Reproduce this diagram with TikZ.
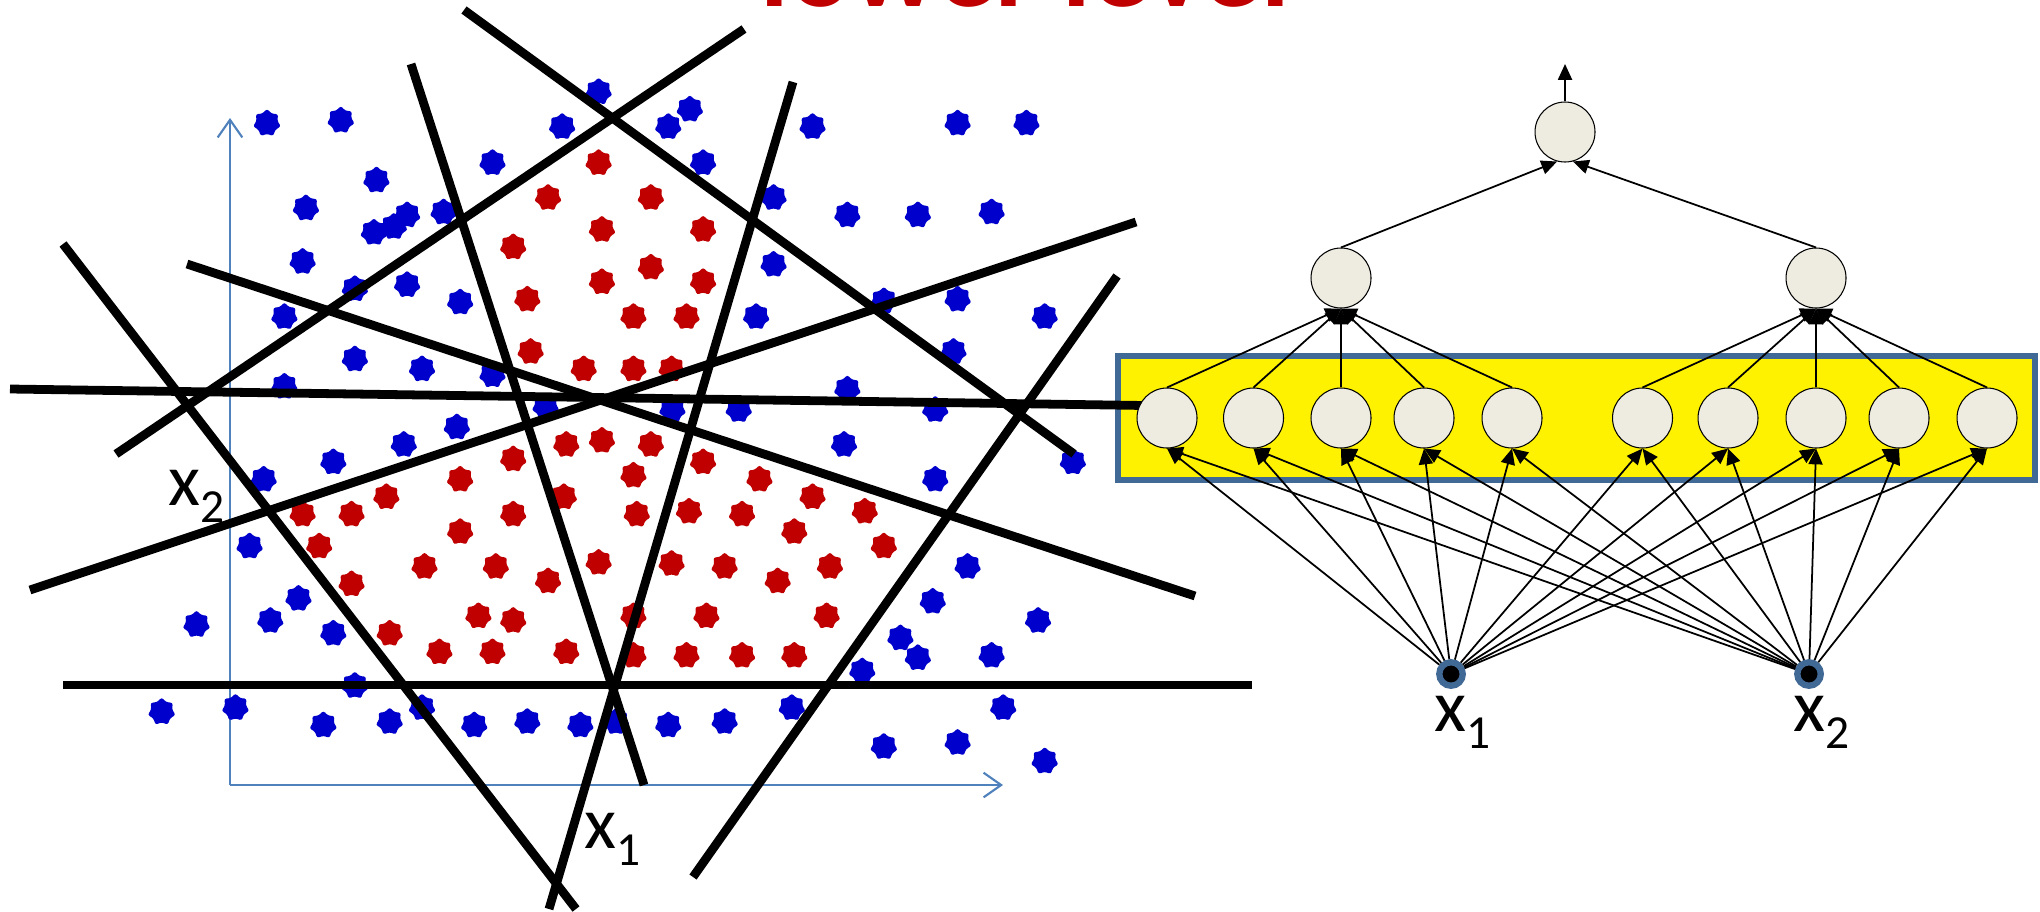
\documentclass[tikz,border=0pt]{standalone}
\usepackage{fontspec}
\setmainfont{Carlito}
\usetikzlibrary{arrows.meta}
\definecolor{dotblue}{RGB}{0,0,204}
\definecolor{dotred}{RGB}{192,0,0}
\definecolor{axisblue}{RGB}{79,129,189}
\definecolor{nodefill}{RGB}{238,236,225}
\definecolor{boxblue}{RGB}{65,105,150}
\definecolor{titlered}{RGB}{192,0,0}
\newcommand\Sub[1]{\raisebox{-5pt}{\fontsize{13.5}{13.5}\selectfont #1}}
\begin{document}
\begin{tikzpicture}[x=0.1mm,y=-0.1mm,
  sep/.style={line width=2.5pt, black},
  axisline/.style={axisblue, line width=0.6pt, -{Straight Barb[length=5pt,width=7pt]}},
  neuron/.style={circle, draw=black, line width=0.3pt, fill=nodefill, minimum size=6mm, inner sep=0pt},
  inp/.style={circle, fill=black, draw=boxblue, line width=1.8pt, minimum size=2.35mm, inner sep=0pt},
  conn/.style={line width=0.5pt, -{Triangle[length=4.5pt,width=4pt]}},
  lbl/.style={font=\fontsize{21}{21}\selectfont, inner sep=0pt, anchor=base west},
  flw/.pic={\path[pic actions, rounded corners=0.7pt] ({90-180/7}:3.0pt) \foreach \i in {0,...,5}{ -- ({90+\i*360/7}:4.1pt) -- ({90+\i*360/7+180/7}:3.0pt) } -- ({90+6*360/7}:4.1pt) -- cycle;}
]
\path[use as bounding box, clip] (0,0) rectangle (2040,911);
\fill[white] (0,0) rectangle (2040,911);

% title
\node[anchor=base west, inner sep=0pt, text=titlered, font=\bfseries\fontsize{33}{33}\selectfont] (title) at (760,6.5) {lower level};

% axes
\coordinate (o) at (230,785);
\coordinate (ytop) at (230,118);
\coordinate (xend) at (1003,785);
\draw[axisline] (o) -- (ytop);
\draw[axisline] (o) -- (xend);

% blue points
\foreach \x/\y in {322/212, 411/207, 722/158, 678/218, 806/218, 832/188, 980/218, 1155/212, 1238/212, 594/280, 848/280, 454/310, 369/358, 491/370, 475/390, 451/400, 535/365, 933/340, 1022/370, 1107/370, 1196/365, 365/450, 933/455, 428/497, 491/490, 555/520, 343/545, 912/545, 1066/518, 1155/515, 1260/545, 428/618, 509/635, 594/645, 343/665, 1022/670, 1150/605, 658/700, 811/705, 891/705, 1128/705, 551/735, 487/765, 402/795, 1018/765, 318/825, 1294/795, 1128/825, 301/940, 1167/975, 360/1030, 1125/1035, 237/1075, 326/1068, 402/1090, 1252/1068, 1086/1098, 1107/1132, 1196/1128, 428/1180, 1040/1155, 195/1225, 284/1218, 509/1218, 955/1218, 1210/1218, 390/1248, 470/1242, 572/1248, 636/1242, 700/1248, 743/1242, 806/1248, 874/1242, 1066/1285, 1155/1278, 1260/1310}
  \pic[fill=dotblue] at ({\x*0.8291},{\y*0.581}) {flw};

% red points
\foreach \x/\y in {722/280, 661/340, 785/340, 726/395, 848/395, 619/425, 785/460, 726/485, 848/485, 636/515, 764/545, 828/545, 640/605, 704/635, 764/635, 810/635, 683/765, 726/758, 785/765, 619/790, 848/795, 764/818, 555/825, 916/825, 466/855, 680/855, 980/855, 365/885, 424/885, 619/885, 768/885, 831/880, 895/885, 1043/880, 555/915, 958/915, 385/940, 1066/940, 512/975, 598/975, 722/968, 810/970, 874/975, 1001/975, 424/1005, 661/1000, 938/1000, 764/1060, 852/1060, 577/1060, 619/1068, 997/1060, 470/1090, 530/1122, 594/1122, 683/1122, 764/1128, 828/1128, 895/1128, 958/1128}
  \pic[fill=dotred] at ({\x*0.8291},{\y*0.581}) {flw};

% yellow layer box
\draw[boxblue, line width=1.8pt, fill=yellow] (1118,356) rectangle (2035,480);

% separating lines
\draw[sep] (464,10) -- (1074,454);
\draw[sep] (744,29) -- (116,454);
\draw[sep] (411,64) -- (644,785);
\draw[sep] (793,82) -- (549,909);
\draw[sep] (187,264) -- (1195,596);
\draw[sep] (30,590) -- (1136,222);
\draw[sep] (10,389) -- (1145,405.5);
\draw[sep] (63,244) -- (576,909);
\draw[sep] (1117,276) -- (693,877);
\draw[sep] (63,685) -- (1252,685);

% axis labels
\node[lbl] (lx2) at (168,505) {x\Sub{2}};
\node[lbl] (lx1) at (584,848) {x\Sub{1}};

% network
\node[neuron] (out) at (1565,132) {};
\node[neuron] (m1) at (1341,278) {};
\node[neuron] (m2) at (1816,278) {};
\foreach \x [count=\i] in {1167,1253.5,1341,1424,1512,1642.5,1728,1816,1899,1987}
  \node[neuron] (h\i) at (\x,418) {};
\node[inp] (x1) at (1451,674) {};
\node[inp] (x2) at (1809,674) {};
\node[lbl] (nx1) at (1434,731) {x\Sub{1}};
\node[lbl] (nx2) at (1793,731) {x\Sub{2}};

\foreach \i in {1,...,10} {
  \draw[conn] (x1) -- (h\i.south);
  \draw[conn] (x2) -- (h\i.south);
}
\foreach \i in {1,...,5} \draw[conn] (h\i.north) -- (m1.south);
\foreach \i in {6,...,10} \draw[conn] (h\i.north) -- (m2.south);
\draw[conn] (m1.north) -- (out.-105);
\draw[conn] (m2.north) -- (out.-75);
\coordinate (outtip) at (1565,64);
\draw[conn] (out.north) -- (outtip);
\end{tikzpicture}
\end{document}
